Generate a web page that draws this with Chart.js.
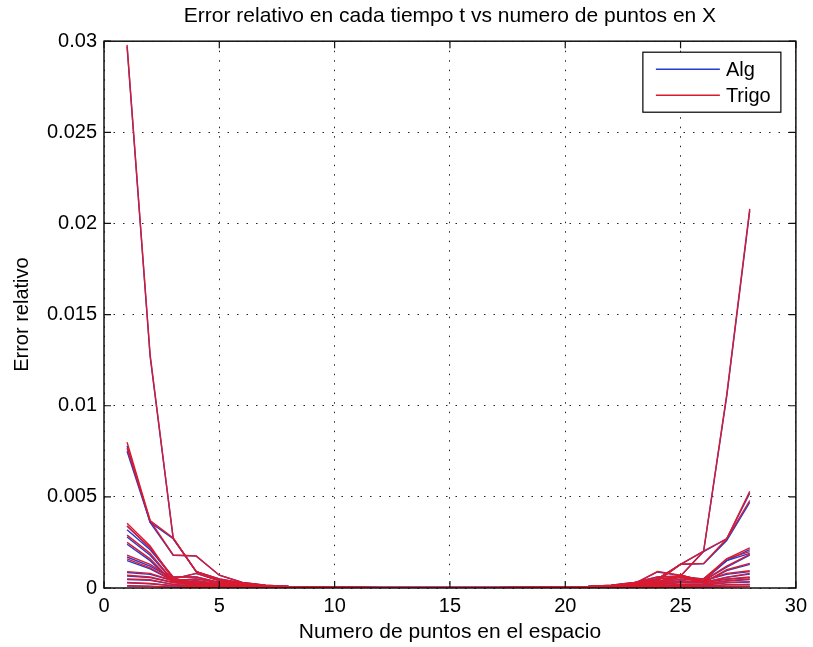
<!DOCTYPE html>
<html>
<head>
<meta charset="utf-8">
<script src="https://cdn.jsdelivr.net/npm/chart.js@4.4.0/dist/chart.umd.min.js"></script>
<style>
  html, body { margin: 0; padding: 0; background: #fff; }
</style>
</head>
<body>
<canvas id="grafica" width="813" height="647"></canvas>
<script>
// puntos en el espacio (eje X)
const xPuntos = [1, 2, 3, 4, 5, 6, 7, 8, 9, 10, 11, 12, 13, 14, 15, 16, 17, 18, 19, 20, 21, 22, 23, 24, 25, 26, 27, 28]
const xTicks = [0, 5, 10, 15, 20, 25, 30]
const yTicks = [0, 0.005, 0.01, 0.015, 0.02, 0.025, 0.03]

// error relativo metodo trigonometrico, un arreglo por tiempo t
const trigo1 = [.0298, .0128, .00274, .0009, .00045, .00025, .00014, .00008, .00005, .00004, .00003, .00003, .00003, .00003, .00003, .00003, .00003, .00003, .00004, .00005, .00008, .00014, .00026, .0005, .0013, .00203, .0106, .0208]
const trigo2 = [.0080, .0037, .00181, .00176, .0007, .0003, .00015, .00008, .00005, .00004, .00003, .00003, .00003, .00003, .00003, .00003, .00003, .00003, .00004, .00005, .00008, .00015, .0003, .0006, .00066, .00203, .0027, .0053]
const trigo3 = [.00767, .0037, .00274, .0009, .0005, .00028, .00014, .00008, .00005, .00004, .00003, .00003, .00003, .00003, .00003, .00003, .00003, .00003, .00004, .00005, .00008, .00014, .00028, .0004, .0013, .00135, .0027, .0048]
const trigo4 = [.00355, .0023, .0005, .0008, .0004, .00018, .0001, .00006, .00004, .00003, .00003, .00002, .00002, .00002, .00002, .00002, .00002, .00003, .00003, .00004, .00007, .00012, .00024, .0009, .0007, .0004, .0016, .0022]
const trigo5 = [.0034, .0022, .0006, .0006, .0003, .00018, .0001, .00006, .00004, .00003, .00003, .00002, .00002, .00002, .00002, .00002, .00002, .00003, .00003, .00004, .00006, .0001, .0002, .0005, .0006, .0005, .0016, .0020]
const trigo6 = [.0029, .0019, .0004, .0005, .0003, .00018, .0001, .00006, .00004, .00003, .00003, .00002, .00002, .00002, .00002, .00002, .00002, .00003, .00003, .00004, .00006, .0001, .00018, .00035, .0007, .0004, .0012, .00185]
const trigo7 = [.0025, .0016, .0003, .0004, .00022, .00018, .0001, .00006, .00004, .00003, .00003, .00002, .00002, .00002, .00002, .00002, .00002, .00003, .00003, .00004, .00005, .00009, .00016, .0003, .0006, .0003, .0010, .00135]
const trigo8 = [.0018, .0013, .0005, .0003, .0002, .0001, .00006, .00004, .00003, .00002, .00002, .00002, .00001, .00001, .00001, .00002, .00002, .00002, .00002, .00003, .00004, .00008, .00014, .00025, .0005, .0004, .0008, .00095]
const trigo9 = [.0016, .0011, .0004, .00025, .00015, .0001, .00006, .00004, .00003, .00002, .00002, .00002, .00001, .00001, .00001, .00002, .00002, .00002, .00002, .00003, .00004, .00007, .00012, .0002, .0004, .0003, .0006, .0008]
const trigo10 = [.0009, .0008, .0004, .0002, .00012, .0001, .00006, .00004, .00003, .00002, .00002, .00002, .00001, .00001, .00001, .00002, .00002, .00002, .00002, .00003, .00003, .00005, .0001, .00017, .0003, .0003, .0005, .0006]
const trigo11 = [.0007, .0006, .0003, .00015, .0001, .00005, .00003, .00002, .00002, .00001, .00001, .00001, .00001, .00001, .00001, .00001, .00001, .00001, .00002, .00002, .00002, .00004, .00008, .00013, .0002, .00022, .0004, .0005]
const trigo12 = [.0005, .00045, .0002, .0001, .00008, .00005, .00003, .00002, .00002, .00001, .00001, .00001, .00001, .00001, .00001, .00001, .00001, .00001, .00002, .00002, .00002, .00003, .00006, .0001, .00015, .00016, .0003, .00035]
const trigo13 = [.0003, .00025, .00012, .00007, .00005, .00005, .00003, .00002, .00002, .00001, .00001, .00001, .00001, .00001, .00001, .00001, .00001, .00001, .00002, .00002, .00001, .00002, .00004, .00006, .0001, .0001, .00018, .0002]
const trigo14 = [.00012, .0001, .00005, .00003, .00002, .00005, .00003, .00002, .00002, .00001, .00001, .00001, .00001, .00001, .00001, .00001, .00001, .00001, .00002, .00002, .00001, .00001, .00002, .00003, .00005, .00005, .00008, .0001]

// error relativo metodo algebraico
const alg1 = [.0297, .0127, .00272, .0009, .00045, .00025, .00014, .00008, .00005, .00004, .00003, .00003, .00003, .00003, .00003, .00003, .00003, .00003, .00004, .00005, .00008, .00014, .00026, .0005, .0013, .00201, .0105, .0207]
const alg2 = [.0078, .0036, .0018, .00175, .0007, .0003, .00015, .00008, .00005, .00004, .00003, .00003, .00003, .00003, .00003, .00003, .00003, .00003, .00004, .00005, .00008, .00015, .0003, .0006, .00065, .0020, .0027, .0052]
const alg3 = [.0075, .0036, .0027, .0009, .0005, .00028, .00014, .00008, .00005, .00004, .00003, .00003, .00003, .00003, .00003, .00003, .00003, .00003, .00004, .00005, .00008, .00014, .00028, .0004, .0013, .00133, .0026, .0047]
const alg4 = [.0034, .0022, .0005, .0008, .0004, .00018, .0001, .00006, .00004, .00003, .00003, .00002, .00002, .00002, .00002, .00002, .00002, .00003, .00003, .00004, .00007, .00012, .00024, .00088, .00068, .0004, .0015, .0021]
const alg5 = [.0032, .0021, .0006, .0006, .0003, .00018, .0001, .00006, .00004, .00003, .00003, .00002, .00002, .00002, .00002, .00002, .00002, .00003, .00003, .00004, .00006, .0001, .0002, .0005, .0006, .0005, .0015, .0019]
const alg6 = [.0028, .0018, .0004, .0005, .0003, .00018, .0001, .00006, .00004, .00003, .00003, .00002, .00002, .00002, .00002, .00002, .00002, .00003, .00003, .00004, .00006, .0001, .00018, .00035, .0007, .0004, .00115, .0018]
const alg7 = [.0024, .0015, .0003, .0004, .00022, .00018, .0001, .00006, .00004, .00003, .00003, .00002, .00002, .00002, .00002, .00002, .00002, .00003, .00003, .00004, .00005, .00009, .00016, .0003, .0006, .0003, .00095, .0013]
const alg8 = [.0017, .0012, .0005, .0003, .0002, .0001, .00006, .00004, .00003, .00002, .00002, .00002, .00001, .00001, .00001, .00002, .00002, .00002, .00002, .00003, .00004, .00008, .00014, .00025, .0005, .0004, .00075, .0009]
const alg9 = [.0015, .00105, .0004, .00025, .00015, .0001, .00006, .00004, .00003, .00002, .00002, .00002, .00001, .00001, .00001, .00002, .00002, .00002, .00002, .00003, .00004, .00007, .00012, .0002, .0004, .0003, .00058, .00076]
const alg10 = [.00085, .00075, .0004, .0002, .00012, .0001, .00006, .00004, .00003, .00002, .00002, .00002, .00001, .00001, .00001, .00002, .00002, .00002, .00002, .00003, .00003, .00005, .0001, .00017, .0003, .0003, .00048, .00057]
const alg11 = [.00066, .00057, .0003, .00015, .0001, .00005, .00003, .00002, .00002, .00001, .00001, .00001, .00001, .00001, .00001, .00001, .00001, .00001, .00002, .00002, .00002, .00004, .00008, .00013, .0002, .00022, .00038, .00047]
const alg12 = [.00047, .00042, .0002, .0001, .00008, .00005, .00003, .00002, .00002, .00001, .00001, .00001, .00001, .00001, .00001, .00001, .00001, .00001, .00002, .00002, .00002, .00003, .00006, .0001, .00015, .00016, .00028, .00033]
const alg13 = [.00028, .00023, .00012, .00007, .00005, .00005, .00003, .00002, .00002, .00001, .00001, .00001, .00001, .00001, .00001, .00001, .00001, .00001, .00002, .00002, .00001, .00002, .00004, .00006, .0001, .0001, .00017, .00019]
const alg14 = [.00011, .00009, .00005, .00003, .00002, .00005, .00003, .00002, .00002, .00001, .00001, .00001, .00001, .00001, .00001, .00001, .00001, .00001, .00002, .00002, .00001, .00001, .00002, .00003, .00005, .00005, .00007, .00009]

const seriesTrigo = [trigo1, trigo2, trigo3, trigo4, trigo5, trigo6, trigo7, trigo8, trigo9, trigo10, trigo11, trigo12, trigo13, trigo14]
const seriesAlg = [alg1, alg2, alg3, alg4, alg5, alg6, alg7, alg8, alg9, alg10, alg11, alg12, alg13, alg14]

const azul = 'rgb(35, 60, 210)'
const rojo = 'rgb(220, 25, 45)'
const fuente = 'Liberation Sans, Arial, Helvetica, sans-serif'

function armarDataset(serie, color, nombre, orden) {
  return {
    label: nombre,
    data: xPuntos.map((x, i) => ({ x: x, y: serie[i] })),
    borderColor: color,
    borderWidth: 1.4,
    pointRadius: 0,
    tension: 0,
    fill: false,
    order: orden
  }
}

let datasets = []
seriesAlg.forEach(s => datasets.push(armarDataset(s, azul, 'Alg', 2)))
seriesTrigo.forEach(s => datasets.push(armarDataset(s, rojo, 'Trigo', 1)))

// marco de la grafica, marcas hacia adentro y leyenda
const marco = {
  id: 'marco',
  afterDraw(chart) {
    const ctx = chart.ctx
    const a = chart.chartArea
    const sx = chart.scales.x
    const sy = chart.scales.y
    ctx.save()
    ctx.strokeStyle = '#111'
    ctx.lineWidth = 1.5
    ctx.strokeRect(a.left, a.top, a.right - a.left, a.bottom - a.top)

    ctx.lineWidth = 1.2
    ctx.beginPath()
    xTicks.forEach(v => {
      const px = sx.getPixelForValue(v)
      ctx.moveTo(px, a.bottom); ctx.lineTo(px, a.bottom - 7)
      ctx.moveTo(px, a.top); ctx.lineTo(px, a.top + 7)
    })
    yTicks.forEach(v => {
      const py = sy.getPixelForValue(v)
      ctx.moveTo(a.left, py); ctx.lineTo(a.left + 7, py)
      ctx.moveTo(a.right, py); ctx.lineTo(a.right - 7, py)
    })
    ctx.stroke()

    // leyenda
    const bx = a.right - 153
    const by = a.top + 11
    ctx.fillStyle = '#fff'
    ctx.fillRect(bx, by, 138, 60)
    ctx.strokeStyle = '#000'
    ctx.lineWidth = 1.2
    ctx.strokeRect(bx, by, 138, 60)
    const items = [['Alg', azul, by + 17], ['Trigo', rojo, by + 43]]
    items.forEach(it => {
      ctx.strokeStyle = it[1]
      ctx.lineWidth = 1.4
      ctx.beginPath()
      ctx.moveTo(bx + 13, it[2]); ctx.lineTo(bx + 77, it[2])
      ctx.stroke()
      ctx.fillStyle = '#000'
      ctx.font = '20px ' + fuente
      ctx.textBaseline = 'middle'
      ctx.textAlign = 'left'
      ctx.fillText(it[0], bx + 83, it[2] + 1)
    })
    ctx.restore()
  }
}

const ctx = document.getElementById('grafica').getContext('2d')
const grafica = new Chart(ctx, {
  type: 'line',
  data: { datasets: datasets },
  plugins: [marco],
  options: {
    responsive: false,
    animation: false,
    layout: { padding: { left: 0, right: 15, top: 0, bottom: 0 } },
    plugins: {
      legend: { display: false },
      tooltip: { enabled: false },
      title: {
        display: true,
        fullSize: false,
        text: 'Error relativo en cada tiempo t vs numero de puntos en X',
        color: '#000',
        font: { family: fuente, size: 21, weight: 'normal' },
        padding: { top: 4, bottom: 12 }
      }
    },
    scales: {
      x: {
        type: 'linear',
        min: 0,
        max: 30,
        afterBuildTicks: s => { s.ticks = xTicks.map(v => ({ value: v })) },
        afterFit: s => { s.height = 59 },
        ticks: {
          color: '#000',
          font: { family: fuente, size: 20 },
          padding: 6,
          maxRotation: 0,
          callback: v => String(v)
        },
        grid: { color: '#222', lineWidth: 1, drawTicks: false },
        border: { display: false, dash: [1.5, 8] },
        title: {
          display: true,
          text: 'Numero de puntos en el espacio',
          color: '#000',
          font: { family: fuente, size: 21 },
          padding: { top: 0, bottom: 2 }
        }
      },
      y: {
        type: 'linear',
        min: 0,
        max: 0.03,
        afterBuildTicks: s => { s.ticks = yTicks.map(v => ({ value: v })) },
        afterFit: s => { s.width = 104 },
        ticks: {
          color: '#000',
          font: { family: fuente, size: 20 },
          padding: 7,
          callback: v => String(v)
        },
        grid: { color: '#222', lineWidth: 1, drawTicks: false },
        border: { display: false, dash: [1.5, 8] },
        title: {
          display: true,
          text: 'Error relativo',
          color: '#000',
          font: { family: fuente, size: 20 },
          padding: { top: 10, bottom: 0 }
        }
      }
    }
  }
})
</script>
</body>
</html>
